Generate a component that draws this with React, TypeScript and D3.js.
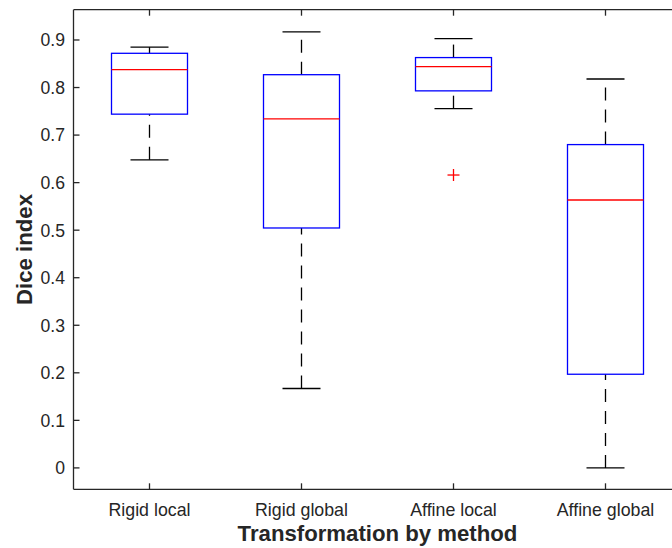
import React from "react";
import * as d3 from "d3";

const categories = ["Rigid local", "Rigid global", "Affine local", "Affine global"];
const whiskerLow = [0.648, 0.167, 0.7555, 0.0];
const q1 = [0.744, 0.5046, 0.793, 0.197];
const median = [0.8375, 0.734, 0.844, 0.5635];
const q3 = [0.872, 0.827, 0.863, 0.68];
const whiskerHigh = [0.885, 0.917, 0.903, 0.818];
const outliers = [{ group: 3, value: 0.616 }];
const yTicks = [0, 0.1, 0.2, 0.3, 0.4, 0.5, 0.6, 0.7, 0.8, 0.9];

const W = 672;
const H = 548;
const left = 73.5, right = 681.5, top = 9.7, bottom = 489.3;
const axisColor = "#262626";
const font = "'Liberation Sans', Arial, Helvetica, sans-serif";

export default function App() {
  const x = d3.scaleLinear().domain([0.5, 4.5]).range([left, right]);
  const y = d3.scaleLinear().domain([-0.045, 0.9637]).range([bottom, top]);
  const step = x(2) - x(1);
  const boxW = step * 0.5;
  const capW = step * 0.25;
  const dash = "13,9";

  return (
    <div style={{ position: "absolute", left: 0, top: 0 }}>
      <svg width={W} height={H} style={{ display: "block", background: "#fff" }}>
        <rect x={0} y={0} width={W} height={H} fill="#fff" />
        {categories.map((c, i) => {
          const cx = x(i + 1);
          return (
            <g key={c}>
              <path d={`M${cx},${y(whiskerLow[i])}L${cx},${y(q1[i])}`} stroke="#000" strokeWidth={1.3} strokeDasharray={dash} fill="none" />
              <path d={`M${cx},${y(q3[i])}L${cx},${y(whiskerHigh[i])}`} stroke="#000" strokeWidth={1.3} strokeDasharray={dash} fill="none" />
              <line x1={cx - capW / 2} x2={cx + capW / 2} y1={y(whiskerLow[i])} y2={y(whiskerLow[i])} stroke="#000" strokeWidth={1.3} />
              <line x1={cx - capW / 2} x2={cx + capW / 2} y1={y(whiskerHigh[i])} y2={y(whiskerHigh[i])} stroke="#000" strokeWidth={1.3} />
              <rect x={cx - boxW / 2} y={y(q3[i])} width={boxW} height={y(q1[i]) - y(q3[i])} fill="none" stroke="#0000ff" strokeWidth={1.3} />
              <line x1={cx - boxW / 2} x2={cx + boxW / 2} y1={y(median[i])} y2={y(median[i])} stroke="#ff0000" strokeWidth={1.3} />
            </g>
          );
        })}
        {outliers.map((o, k) => {
          const cx = x(o.group);
          const cy = y(o.value);
          return (
            <g key={k} stroke="#ff0000" strokeWidth={1.3}>
              <line x1={cx - 6} x2={cx + 6} y1={cy} y2={cy} />
              <line x1={cx} x2={cx} y1={cy - 6} y2={cy + 6} />
            </g>
          );
        })}
        <line x1={left} x2={W} y1={top} y2={top} stroke={axisColor} strokeWidth={1.3} />
        <line x1={left} x2={W} y1={bottom} y2={bottom} stroke={axisColor} strokeWidth={1.3} />
        <line x1={left} x2={left} y1={top} y2={bottom} stroke={axisColor} strokeWidth={1.3} />
        {yTicks.map((t) => (
          <g key={t}>
            <line x1={left} x2={left + 6} y1={y(t)} y2={y(t)} stroke={axisColor} strokeWidth={1.3} />
            <text x={65} y={y(t)} dy="0.36em" textAnchor="end" fontFamily={font} fontSize={17.6} fill={axisColor}>
              {String(t)}
            </text>
          </g>
        ))}
        {categories.map((c, i) => (
          <g key={c}>
            <line x1={x(i + 1)} x2={x(i + 1)} y1={bottom} y2={bottom - 6} stroke={axisColor} strokeWidth={1.3} />
            <line x1={x(i + 1)} x2={x(i + 1)} y1={top} y2={top + 6} stroke={axisColor} strokeWidth={1.3} />
            <text x={x(i + 1)} y={516} textAnchor="middle" fontFamily={font} fontSize={17.8} fill={axisColor}>
              {c}
            </text>
          </g>
        ))}
        <text x={(left + right) / 2} y={541} textAnchor="middle" fontFamily={font} fontSize={22.2} fontWeight="bold" fill={axisColor}>
          Transformation by method
        </text>
        <text transform={`translate(32,${(top + bottom) / 2}) rotate(-90)`} textAnchor="middle" fontFamily={font} fontSize={22.2} fontWeight="bold" fill={axisColor}>
          Dice index
        </text>
      </svg>
    </div>
  );
}
